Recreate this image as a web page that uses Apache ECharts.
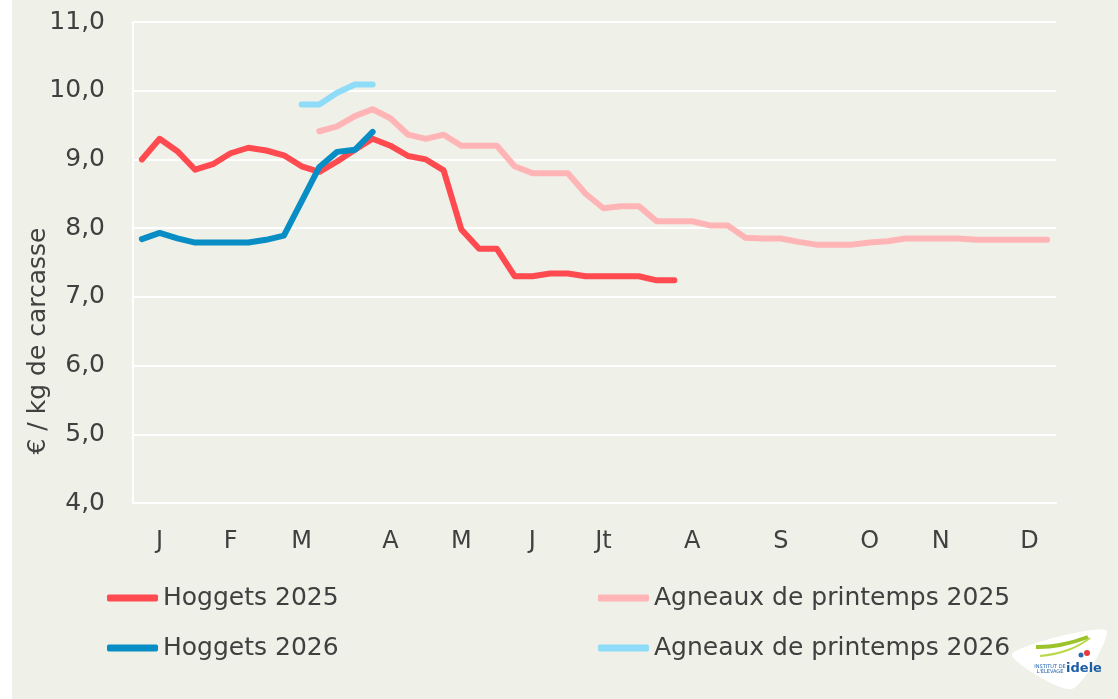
<!DOCTYPE html>
<html>
<head>
<meta charset="utf-8">
<script src="https://cdn.jsdelivr.net/npm/echarts@6/dist/echarts.min.js"></script>
<style>
  html, body { margin: 0; padding: 0; background: #ffffff; }
  #main { width: 1118px; height: 699px; }
</style>
</head>
<body>
<div id="main"></div>
<script>
// semaines de l'annee (52), etiquettes de mois placees sur certaines semaines
var weeks = [];
for (var w = 1; w <= 52; w++) weeks.push(String(w));
var monthWeeks = [1, 5, 9, 14, 18, 22, 26, 31, 36, 41, 45, 50];
var monthNames = ['J', 'F', 'M', 'A', 'M', 'J', 'Jt', 'A', 'S', 'O', 'N', 'D'];

// prix en euros / kg de carcasse
var hoggets2025Start = 0;
var hoggets2025 = [9.0, 9.3, 9.12, 8.85, 8.93, 9.09, 9.17, 9.13, 9.06, 8.9, 8.82, 8.97, 9.14, 9.3,
  9.2, 9.05, 9.0, 8.84, 7.98, 7.7, 7.7, 7.3, 7.3, 7.34, 7.34, 7.3, 7.3, 7.3, 7.3, 7.24, 7.24];
var hoggets2026Start = 0;
var hoggets2026 = [7.84, 7.93, 7.85, 7.79, 7.79, 7.79, 7.79, 7.83, 7.89, 8.39, 8.89, 9.11, 9.14, 9.4];
var agneaux2025Start = 10;
var agneaux2025 = [9.41, 9.48, 9.63, 9.73, 9.6, 9.36, 9.3, 9.36, 9.2, 9.2, 9.2, 8.9, 8.8, 8.8, 8.8,
  8.5, 8.29, 8.32, 8.32, 8.1, 8.1, 8.1, 8.04, 8.04, 7.86, 7.85, 7.85, 7.8, 7.76, 7.76, 7.76,
  7.79, 7.81, 7.85, 7.85, 7.85, 7.85, 7.83, 7.83, 7.83, 7.83, 7.83];
var agneaux2026Start = 9;
var agneaux2026 = [9.8, 9.8, 9.97, 10.09, 10.09];

var yTicks = [4, 5, 6, 7, 8, 9, 10, 11];

function pad(start, vals) {
  var out = [];
  for (var i = 0; i < start; i++) out.push(null);
  return out.concat(vals);
}

var font = 'DejaVu Sans';
var txt = '#404040';

function line(name, color, data) {
  return {
    name: name,
    type: 'line',
    data: data,
    symbol: 'none',
    color: color,
    lineStyle: { width: 6, color: color, cap: 'round', join: 'round' },
    animation: false
  };
}

var legendBase = {
  orient: 'vertical',
  top: 583,
  padding: 0,
  itemWidth: 51,
  itemHeight: 7,
  itemGap: 20,
  icon: 'roundRect',
  textStyle: { fontFamily: font, fontSize: 25, color: txt, lineHeight: 30 }
};

var chart = echarts.init(document.getElementById('main'));
chart.setOption({
  backgroundColor: '#ffffff',
  animation: false,
  graphic: [
    { type: 'rect', z: -10, shape: { x: 12, y: 0, width: 1106, height: 699 }, style: { fill: '#eff0e8' } },
    { type: 'text', x: 38, y: 341, rotation: Math.PI / 2,
      style: { text: '€ / kg de carcasse', font: '25px "DejaVu Sans"', fill: txt, align: 'center', verticalAlign: 'middle' } },
    { type: 'polygon', shape: { points: [[1012, 654], [1106, 630], [1072, 689]], smooth: 0.25 },
      style: { fill: '#ffffff' } },
    { type: 'polyline', shape: { points: [[1036, 647], [1060, 645], [1088, 637]], smooth: 0.5 },
      style: { stroke: '#9cc32a', lineWidth: 4, fill: null } },
    { type: 'polyline', shape: { points: [[1040, 656], [1068, 650], [1090, 638]], smooth: 0.5 },
      style: { stroke: '#b9d84a', lineWidth: 2, fill: null } },
    { type: 'text', x: 1084, y: 669,
      style: { text: 'idele', font: 'bold 13px "DejaVu Sans"', fill: '#1b5ea8', align: 'center', verticalAlign: 'middle' } },
    { type: 'text', x: 1050, y: 669,
      style: { text: 'INSTITUT DE\nL\'ÉLEVAGE', font: '5px "DejaVu Sans"', fill: '#1b5ea8', align: 'center', verticalAlign: 'middle' } },
    { type: 'circle', shape: { cx: 1087, cy: 653, r: 3 }, style: { fill: '#e83a3a' } },
    { type: 'circle', shape: { cx: 1081, cy: 655, r: 2.5 }, style: { fill: '#2a6bb5' } }
  ],
  grid: { left: 133, right: 62, top: 22, bottom: 196 },
  legend: [
    Object.assign({ left: 107, data: ['Hoggets 2025', 'Hoggets 2026'] }, legendBase),
    Object.assign({ left: 598, data: ['Agneaux de printemps 2025', 'Agneaux de printemps 2026'] }, legendBase)
  ],
  xAxis: {
    type: 'category',
    data: weeks,
    boundaryGap: true,
    axisLine: { show: true, lineStyle: { color: '#ffffff', width: 2 } },
    axisTick: { show: false },
    splitLine: { show: false },
    axisLabel: {
      interval: 0,
      margin: 27,
      fontFamily: font,
      fontSize: 24,
      color: txt,
      formatter: function (v, idx) {
        var k = monthWeeks.indexOf(idx);
        return k >= 0 ? monthNames[k] : '';
      }
    }
  },
  yAxis: {
    type: 'value',
    min: yTicks[0],
    max: yTicks[yTicks.length - 1],
    interval: 1,
    axisLine: { show: true, lineStyle: { color: '#ffffff', width: 2 } },
    axisTick: { show: false },
    splitLine: { show: true, lineStyle: { color: '#ffffff', width: 2 } },
    axisLabel: {
      margin: 28,
      fontFamily: font,
      fontSize: 25,
      color: txt,
      formatter: function (v) { return v.toFixed(1).replace('.', ','); }
    }
  },
  series: [
    line('Agneaux de printemps 2025', '#ffb4b6', pad(agneaux2025Start, agneaux2025)),
    line('Agneaux de printemps 2026', '#8fdcf9', pad(agneaux2026Start, agneaux2026)),
    line('Hoggets 2025', '#ff4a50', pad(hoggets2025Start, hoggets2025)),
    line('Hoggets 2026', '#088dc4', pad(hoggets2026Start, hoggets2026))
  ]
});
</script>
</body>
</html>
